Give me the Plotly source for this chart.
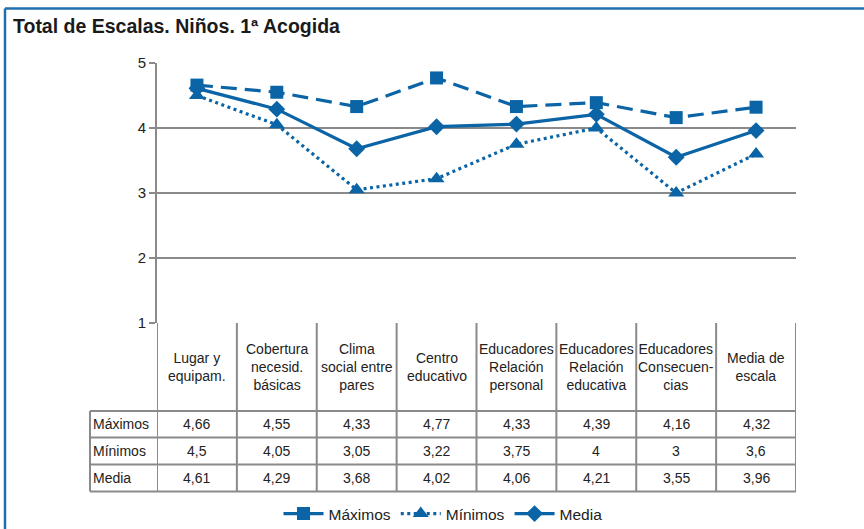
import plotly.graph_objects as go

categorias = [
    "Lugar y<br>equipam.",
    "Cobertura<br>necesid.<br>básicas",
    "Clima<br>social entre<br>pares",
    "Centro<br>educativo",
    "Educadores<br>Relación<br>personal",
    "Educadores<br>Relación<br>educativa",
    "Educadores<br>Consecuen-<br>cias",
    "Media de<br>escala",
]
maximos = [4.66, 4.55, 4.33, 4.77, 4.33, 4.39, 4.16, 4.32]
minimos = [4.5, 4.05, 3.05, 3.22, 3.75, 4, 3, 3.6]
media = [4.61, 4.29, 3.68, 4.02, 4.06, 4.21, 3.55, 3.96]
y_ticks = [1, 2, 3, 4, 5]

AZUL = "#0a64a5"
GRIS = "#8a8a8a"
TEXTO = "#222222"
FUENTE = "Liberation Sans, Arial, sans-serif"

W, H = 864, 529
L, R, T, B = 157, 796, 63, 323


def px_x(px):
    return (px - L) / (R - L)


def px_y(py):
    return (B - py) / (B - T)


def fmt(v):
    return f"{v:g}".replace(".", ",")


n = len(categorias)
xs = [i + 0.5 for i in range(n)]

fig = go.Figure()
series = [
    ("Máximos", maximos, "16px,8px", "square", 13),
    ("Mínimos", minimos, "3px,3.5px", "triangle-up", 14),
    ("Media", media, "solid", "diamond", 13),
]
for nombre, vals, dash, simbolo, tam in series:
    fig.add_trace(go.Scatter(
        x=xs, y=vals, name=nombre, mode="lines+markers",
        line=dict(color=AZUL, width=3.2, dash=dash),
        marker=dict(color=AZUL, symbol=simbolo, size=tam),
    ))

# tabla de datos bajo el grafico
filas_y = [411, 437.5, 464.5, 491.5]
shapes = []
for py in filas_y:
    shapes.append(dict(type="line", xref="paper", yref="paper",
                       x0=px_x(90), x1=1, y0=px_y(py), y1=px_y(py),
                       line=dict(color=GRIS, width=2)))
for i in range(n + 1):
    shapes.append(dict(type="line", xref="x", yref="paper",
                       x0=i, x1=i, y0=0, y1=px_y(filas_y[-1]),
                       line=dict(color=GRIS, width=2)))
shapes.append(dict(type="line", xref="paper", yref="paper",
                   x0=px_x(90), x1=px_x(90), y0=px_y(filas_y[0]), y1=px_y(filas_y[-1]),
                   line=dict(color=GRIS, width=2)))
# marco azul
shapes.append(dict(type="line", xref="paper", yref="paper",
                   x0=px_x(5), x1=px_x(866), y0=px_y(8.5), y1=px_y(8.5),
                   line=dict(color="#1f6fae", width=2.5)))
shapes.append(dict(type="line", xref="paper", yref="paper",
                   x0=px_x(5), x1=px_x(5), y0=px_y(8.5), y1=px_y(531),
                   line=dict(color="#1f6fae", width=2.5)))

annotations = []
for i, cat in enumerate(categorias):
    annotations.append(dict(x=i + 0.5, y=px_y(367), xref="x", yref="paper",
                            text=cat, showarrow=False, align="center",
                            xanchor="center", yanchor="middle",
                            font=dict(size=14, color=TEXTO)))
etiquetas = ["Máximos", "Mínimos", "Media"]
for r, (etq, vals) in enumerate(zip(etiquetas, [maximos, minimos, media])):
    yc = px_y((filas_y[r] + filas_y[r + 1]) / 2)
    annotations.append(dict(x=px_x(91), y=yc, xref="paper", yref="paper",
                            text=etq, showarrow=False,
                            xanchor="left", yanchor="middle",
                            font=dict(size=14, color=TEXTO)))
    for i, v in enumerate(vals):
        annotations.append(dict(x=i + 0.5, y=yc, xref="x", yref="paper",
                                text=fmt(v), showarrow=False,
                                xanchor="center", yanchor="middle",
                                font=dict(size=14, color=TEXTO)))
annotations.append(dict(x=px_x(11), y=px_y(26), xref="paper", yref="paper",
                        text="<b>Total de Escalas. Niños. 1ª Acogida</b>",
                        showarrow=False, xanchor="left", yanchor="middle",
                        font=dict(size=19.5, color="#1a1a1a")))

fig.update_layout(
    width=W, height=H,
    margin=dict(l=L, r=W - R, t=T, b=H - B, autoexpand=False),
    paper_bgcolor="white", plot_bgcolor="white",
    font=dict(family=FUENTE, color=TEXTO),
    shapes=shapes, annotations=annotations,
    showlegend=True,
    legend=dict(orientation="h", x=px_x(443), y=px_y(514),
                xanchor="center", yanchor="middle",
                font=dict(size=15.5, color=TEXTO), itemwidth=40),
    xaxis=dict(range=[0, n], showticklabels=False, showgrid=False,
               zeroline=False, showline=False, ticks=""),
    yaxis=dict(range=[1, 5], tickvals=y_ticks, showgrid=True,
               gridcolor=GRIS, gridwidth=2, zeroline=False,
               showline=True, linecolor=GRIS, linewidth=2,
               ticks="outside", ticklen=6, tickcolor=GRIS, tickwidth=2,
               tickfont=dict(size=15, color=TEXTO)),
)

fig.write_html("out.html", config={"displayModeBar": False},
               post_script="document.body.style.margin='0';")
